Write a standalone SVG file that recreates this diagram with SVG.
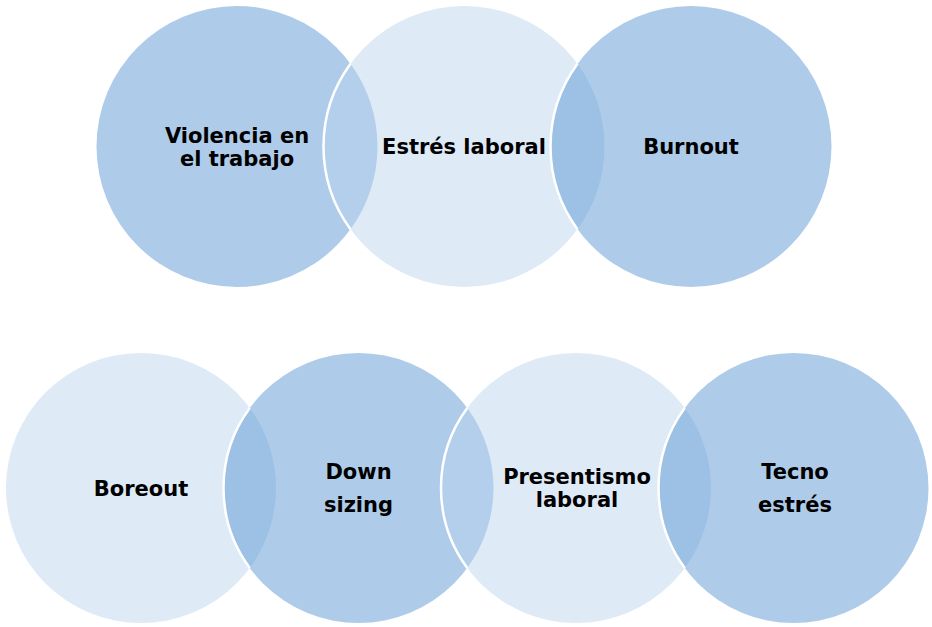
<svg xmlns="http://www.w3.org/2000/svg" width="932" height="627" viewBox="0 0 932 627">
<style>
.dark{fill:#AECCE9}
.light{fill:#DEEAF6}
.ovd{fill:#9DC1E4}
.ovl{fill:#B4CFEB}
.edge{fill:none;stroke:#FFFFFF;stroke-width:2.5}
.lbl{font-family:"DejaVu Sans",Verdana,sans-serif;font-weight:bold;font-size:21px;fill:#000000;text-anchor:middle}
</style>
<rect width="932" height="627" fill="#FFFFFF"/>
<g id="top-row">
<g id="violencia"><circle class="dark" cx="237" cy="146.5" r="140.5"/></g>
<g id="estres"><circle class="light" cx="464" cy="146.5" r="140.5"/></g>
<g id="burnout"><circle class="dark" cx="691" cy="146.5" r="140.5"/></g>
</g>
<g id="bottom-row">
<g id="boreout"><circle class="light" cx="141" cy="488" r="135"/></g>
<g id="downsizing"><circle class="dark" cx="358.5" cy="488" r="135"/></g>
<g id="presentismo"><circle class="light" cx="576" cy="488" r="135"/></g>
<g id="tecnoestres"><circle class="dark" cx="793.5" cy="488" r="135"/></g>
</g>
<g id="overlaps">
<path class="ovl" d="M350.5,63.7 A140.5,140.5 0 0 1 350.5,229.3 A140.5,140.5 0 0 1 350.5,63.7 Z"/>
<path class="ovd" d="M577.5,63.7 A140.5,140.5 0 0 1 577.5,229.3 A140.5,140.5 0 0 1 577.5,63.7 Z"/>
<path class="ovd" d="M249.75,408 A135,135 0 0 1 249.75,568 A135,135 0 0 1 249.75,408 Z"/>
<path class="ovl" d="M467.25,408 A135,135 0 0 1 467.25,568 A135,135 0 0 1 467.25,408 Z"/>
<path class="ovd" d="M684.75,408 A135,135 0 0 1 684.75,568 A135,135 0 0 1 684.75,408 Z"/>
<path class="edge" d="M350.5,229.3 A140.5,140.5 0 0 1 350.5,63.7"/>
<path class="edge" d="M577.5,229.3 A140.5,140.5 0 0 1 577.5,63.7"/>
<path class="edge" d="M249.75,568 A135,135 0 0 1 249.75,408"/>
<path class="edge" d="M467.25,568 A135,135 0 0 1 467.25,408"/>
<path class="edge" d="M684.75,568 A135,135 0 0 1 684.75,408"/>
</g>
<g id="labels">
<text class="lbl" x="237" y="142.5">Violencia en</text>
<text class="lbl" x="237" y="165.5">el trabajo</text>
<text class="lbl" x="464" y="154">Estrés laboral</text>
<text class="lbl" x="691" y="154">Burnout</text>
<text class="lbl" x="141" y="495.5">Boreout</text>
<text class="lbl" x="358.5" y="479">Down</text>
<text class="lbl" x="358.5" y="511.5">sizing</text>
<text class="lbl" x="577" y="484">Presentismo</text>
<text class="lbl" x="577" y="507">laboral</text>
<text class="lbl" x="795" y="479">Tecno</text>
<text class="lbl" x="795" y="511.5">estrés</text>
</g>
</svg>
